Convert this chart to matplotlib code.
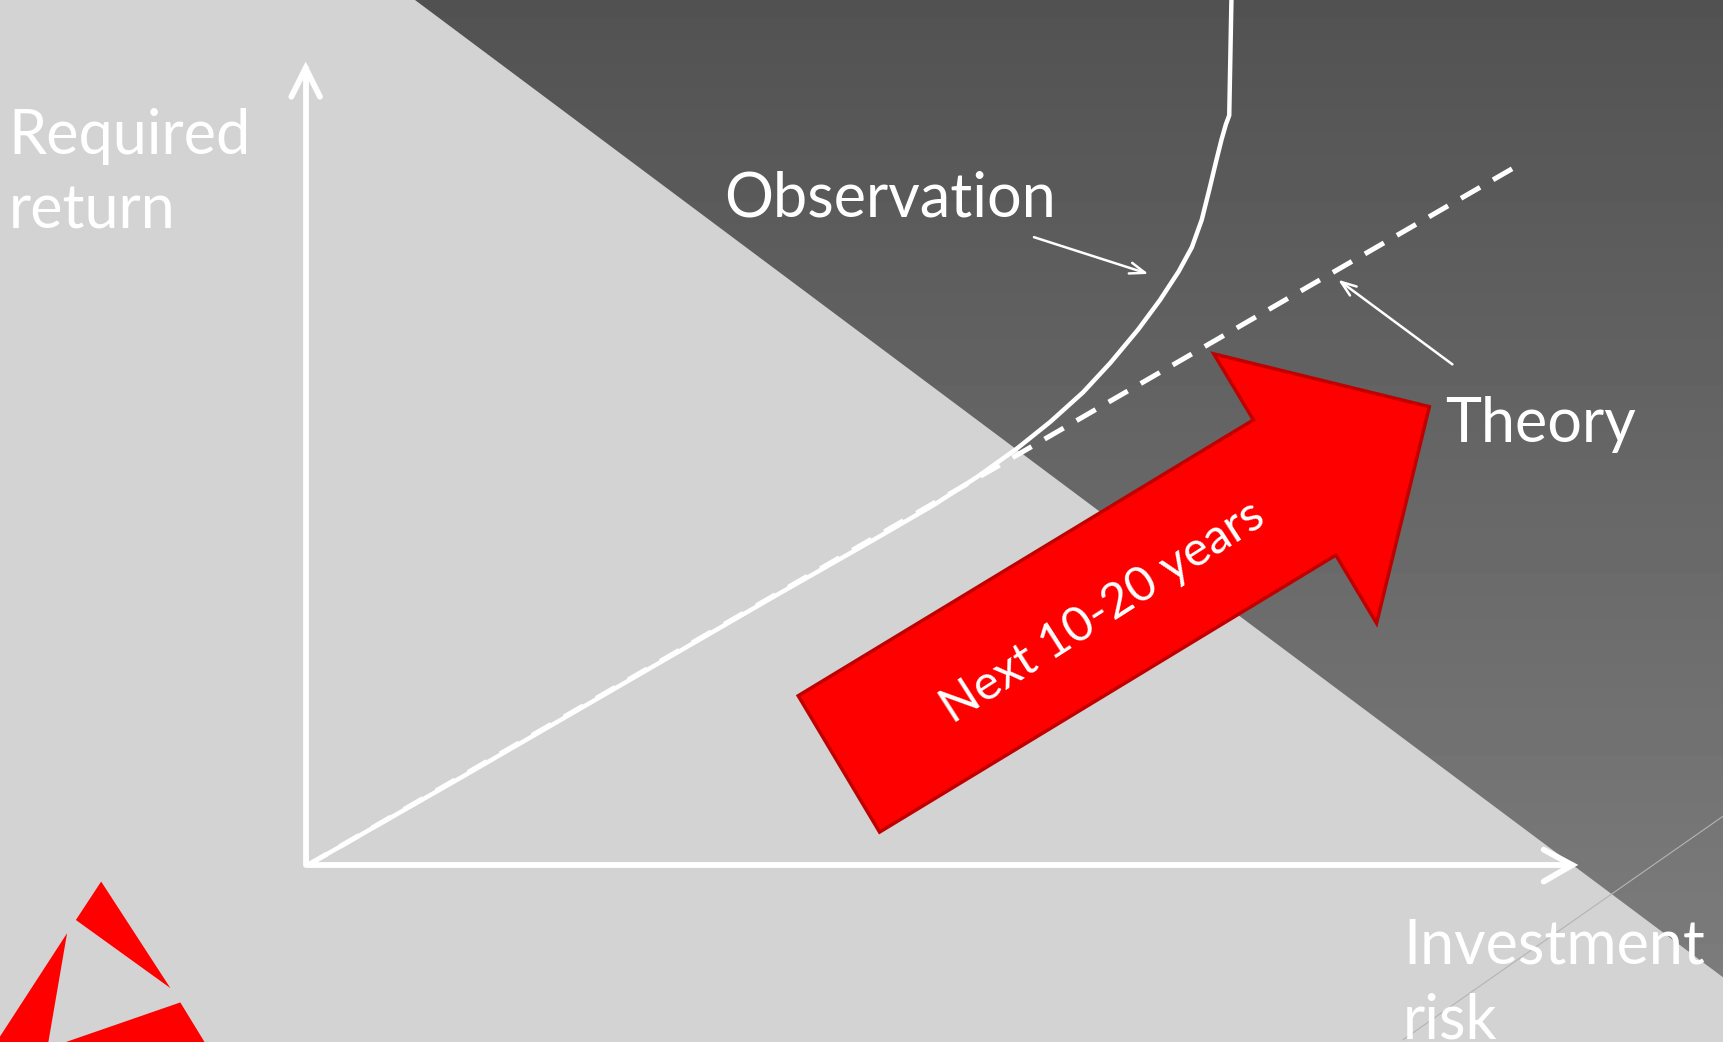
#!/usr/bin/env python3

import numpy as np
from matplotlib import pyplot as plt
from matplotlib.patches import Polygon

# everything is laid out in the slide's own units (1568 x 948)
W, H = 1568, 948

# axes of the diagram
origin = (280, 787)
y_axis_top = 62
x_axis_end = 1430

# theory: straight risk/return line
theory_x = [280, 1378]
theory_y = [787, 152]

# observation: follows the line, then bends up steeply
obs_x = [280, 420, 560, 700, 800, 850, 890, 925, 955, 985, 1010, 1035, 1055,
         1072, 1084, 1093, 1100, 1106, 1111, 1115, 1118, 1120]
obs_y = [787, 707, 626, 545, 488, 459, 433, 408, 384, 357, 330, 300, 273,
         247, 225, 200, 172, 147, 127, 113, 105, 0]

# big red arrow outline
red_arrow_x = [726, 1140, 1104, 1300, 1252, 1215, 800]
red_arrow_y = [633, 382, 322, 370, 567, 505, 757]

# logo triangles, bottom left
logo = [
    ([92, 69, 155], [802, 837, 899]),
    ([61, 0, 0, 44], [849, 943, 948, 948]),
    ([60, 164, 186], [948, 912, 948]),
]

dark_x = [377, W, W]
dark_y = [0, 0, 890]

# label text and baseline position of its first line
labels = {
    'Required\nreturn': (8, 140),
    'Observation': (659, 197),
    'Theory': (1314, 402),
    'Investment\nrisk': (1276, 877),
}

fig = plt.figure(figsize=(17.24, 10.42), dpi=100)
ax = fig.add_axes((0, 0, 1, 1), frame_on=False)
ax.set_xlim(0, W)
ax.set_ylim(H, 0)
ax.set_axis_off()
fig.patch.set_facecolor('#d3d3d3')

# dark wedge with a soft vertical gradient
wedge = Polygon(np.column_stack([dark_x, dark_y]), closed=True,
                facecolor='none', edgecolor='none')
ax.add_patch(wedge)
grad = np.linspace(0x52, 0x7c, 256)[:, None] / 255.0
grad = np.repeat(grad, 2, axis=1)
im = ax.imshow(grad, cmap='gray', vmin=0, vmax=1, extent=(0, W, 890, 0),
               aspect='auto', zorder=1)
im.set_clip_path(wedge)

# faint line in the corner
ax.plot([W, 1276], [742, 946], color='#b4b4b4', lw=0.8, zorder=2)

for tx, ty in logo:
    ax.add_patch(Polygon(np.column_stack([tx, ty]), closed=True,
                         facecolor='#ff0000', edgecolor='none', zorder=2))

# diagram axes with open chevrons
axis_kw = dict(color='white', lw=4.2, solid_capstyle='round', zorder=5)
ax.plot([origin[0] - 2, origin[0] - 2], [origin[1], y_axis_top], **axis_kw)
ax.plot([265, 278, 291], [88, y_axis_top, 88], solid_joinstyle='miter', **axis_kw)
ax.plot([origin[0], x_axis_end], [origin[1], origin[1]], **axis_kw)
ax.plot([1404, x_axis_end, 1404], [773, 787, 802], solid_joinstyle='miter', **axis_kw)

ax.plot(theory_x, theory_y, color='white', lw=3.6,
        linestyle=(0, (4.4, 3.0)), dash_capstyle='butt', zorder=4)
ax.plot(obs_x, obs_y, color='white', lw=3.2, solid_capstyle='butt',
        solid_joinstyle='round', zorder=4)

ax.add_patch(Polygon(np.column_stack([red_arrow_x, red_arrow_y]), closed=True,
                     facecolor='#ff0000', edgecolor='#c00000', lw=2.5,
                     joinstyle='miter', zorder=6))
ax.text(1003, 557, 'Next 10-20 years', color='white', fontsize=35,
        family='Lato', rotation=32.6,
        rotation_mode='anchor', ha='center', va='center', zorder=7)

arrow_kw = dict(arrowstyle='->,head_length=1.1,head_width=0.4', color='white', lw=1.8)
ax.annotate('', xy=(1047, 250), xytext=(938, 215), arrowprops=arrow_kw, zorder=5)
ax.annotate('', xy=(1215, 253), xytext=(1323, 333), arrowprops=arrow_kw, zorder=5)

for txt, (lx, ly) in labels.items():
    lines = txt.split('\n')
    for k, line in enumerate(lines):
        ax.text(lx, ly + 68 * k, line, color='white', fontsize=44,
                family='Lato', ha='left', va='baseline', zorder=7)

fig.savefig('out.png', dpi=100, facecolor=fig.get_facecolor())
